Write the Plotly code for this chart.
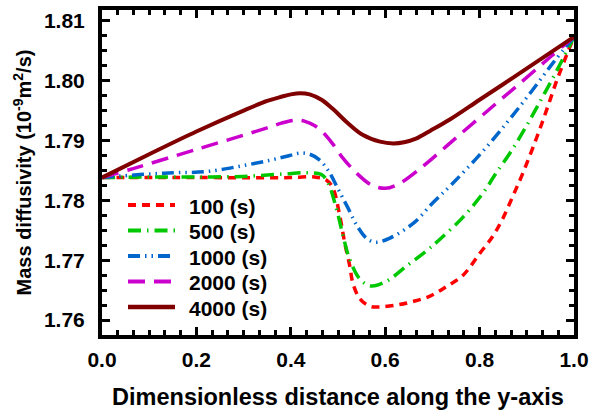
import plotly.graph_objects as go

# ---- data ----
x_100 = [0, 0.2, 0.4, 0.45, 0.475, 0.489, 0.504, 0.514, 0.525, 0.532, 0.547, 0.568, 0.589,
         0.624, 0.659, 0.695, 0.73, 0.765, 0.8, 0.828, 0.85, 0.871, 0.892, 0.921, 0.942,
         0.963, 0.985, 1.0]
y_100 = [1.7838, 1.7838, 1.7838, 1.7839, 1.7834, 1.7821, 1.7773, 1.7730, 1.7690, 1.7660,
         1.7635, 1.7623, 1.7622, 1.7625, 1.7631, 1.7640, 1.7656, 1.7675, 1.7711, 1.7740,
         1.7771, 1.7808, 1.7846, 1.7905, 1.7951, 1.7999, 1.8044, 1.8073]

x_500 = [0, 0.1, 0.2, 0.3, 0.384, 0.434, 0.465, 0.479, 0.497, 0.511, 0.525, 0.547, 0.57,
         0.603, 0.645, 0.688, 0.716, 0.765, 0.807, 0.833, 0.871, 0.907, 0.935, 0.963, 1.0]
y_500 = [1.7838, 1.7839, 1.7839, 1.7840, 1.7844, 1.7846, 1.7843, 1.7829, 1.7785, 1.7740,
         1.7701, 1.7668, 1.7657, 1.7665, 1.7690, 1.7716, 1.7735, 1.7772, 1.7812, 1.7843,
         1.7887, 1.7935, 1.7975, 1.8016, 1.8073]

x_1000 = [0, 0.08, 0.151, 0.221, 0.292, 0.356, 0.398, 0.42, 0.44, 0.46, 0.48, 0.50, 0.52,
          0.54, 0.56, 0.58, 0.61, 0.66, 0.70, 0.74, 0.80, 0.857, 0.907, 0.956, 1.0]
y_1000 = [1.7838, 1.7843, 1.7846, 1.7848, 1.7857, 1.7867, 1.7875, 1.7879, 1.7877, 1.7868,
          1.7849, 1.7819, 1.7789, 1.7758, 1.7737, 1.7730, 1.7737, 1.7762, 1.7795, 1.7826,
          1.7876, 1.7929, 1.7979, 1.8030, 1.8073]

x_2000 = [0, 0.066, 0.208, 0.35, 0.38, 0.41, 0.43, 0.45, 0.47, 0.49, 0.51, 0.54, 0.57, 0.60,
          0.63, 0.68, 0.716, 0.751, 0.822, 0.892, 0.949, 1.0]
y_2000 = [1.7838, 1.7853, 1.7887, 1.7921, 1.7929, 1.7934, 1.7932, 1.7925, 1.7912, 1.7893,
          1.7871, 1.7845, 1.7826, 1.7820, 1.7828, 1.7857, 1.7881, 1.7905, 1.7953, 1.8000,
          1.8039, 1.8073]

x_4000 = [0, 0.1, 0.2, 0.3, 0.35, 0.38, 0.40, 0.42, 0.44, 0.465, 0.49, 0.518, 0.553, 0.589,
          0.617, 0.64, 0.665, 0.695, 0.737, 0.80, 0.871, 0.943, 1.0]
y_4000 = [1.7838, 1.7877, 1.7915, 1.7950, 1.7966, 1.7973, 1.7977, 1.7979, 1.7977, 1.7968,
          1.7952, 1.7931, 1.7909, 1.7898, 1.7895, 1.7897, 1.7903, 1.7916, 1.7935, 1.7968,
          1.8005, 1.8043, 1.8073]

series_names = ["100 (s)", "500 (s)", "1000 (s)", "2000 (s)", "4000 (s)"]
x_ticks = [0.0, 0.2, 0.4, 0.6, 0.8, 1.0]
x_tick_text = ["0.0", "0.2", "0.4", "0.6", "0.8", "1.0"]
y_ticks = [1.76, 1.77, 1.78, 1.79, 1.80, 1.81]
y_tick_text = ["1.76", "1.77", "1.78", "1.79", "1.80", "1.81"]

FONT = "Arial, 'Liberation Sans', sans-serif"

styles = [
    dict(color="#FF0000", width=3.5, dash="8px,6px"),
    dict(color="#00C800", width=3.5, dash="13px,6px,1.5px,6px"),
    dict(color="#0066CC", width=3.5, dash="12px,5px,1.5px,5px,1.5px,5px"),
    dict(color="#CC00CC", width=3.5, dash="17px,9px"),
    dict(color="#800000", width=4, dash="solid"),
]
xs = [x_100, x_500, x_1000, x_2000, x_4000]
ys = [y_100, y_500, y_1000, y_2000, y_4000]

fig = go.Figure()
for name, x, y, st in zip(series_names, xs, ys, styles):
    fig.add_trace(go.Scatter(x=x, y=y, mode="lines", name=name, showlegend=False,
                             line=dict(color=st["color"], width=st["width"], dash=st["dash"],
                                       shape="spline", smoothing=1.0)))

# ---- legend drawn in paper space (line sample + label) ----
L, T, W, H = 102, 10, 472, 325          # plot area in px (for paper conversion)
def px_x(p):
    return (p - L) / W
def px_y(p):
    return 1 - (p - T) / H

legend_rows = [205, 230.5, 256, 281.5, 307]
for name, st, row in zip(series_names, styles, legend_rows):
    fig.add_shape(type="line", xref="paper", yref="paper",
                  x0=px_x(128), x1=px_x(175), y0=px_y(row), y1=px_y(row),
                  line=dict(color=st["color"], width=st["width"] + 0.5, dash=st["dash"]))
    fig.add_annotation(xref="paper", yref="paper", x=px_x(187), y=px_y(row + 1),
                       xanchor="left", yanchor="middle", showarrow=False, text=name,
                       font=dict(family=FONT, size=21, color="black", weight="bold"))

axis_common = dict(
    showline=True, linecolor="black", linewidth=4, mirror="ticks",
    ticks="inside", ticklen=8, tickwidth=2.5, tickcolor="black",
    showgrid=False, zeroline=False, automargin=False,
    tickfont=dict(family=FONT, size=21, color="black", weight="bold"),
)

fig.update_xaxes(
    range=[0, 1], tickvals=x_ticks, ticktext=x_tick_text,
    minor=dict(dtick=0.2 / 6, tick0=0, ticks="inside", ticklen=5, tickwidth=2.5, tickcolor="black"),
    ticklabelstandoff=3,
    title=dict(text="Dimensionless distance along the y-axis",
               font=dict(family=FONT, size=23.5, color="black", weight="bold"), standoff=19),
    **axis_common,
)
fig.update_yaxes(
    range=[1.7575, 1.8118], tickvals=y_ticks, ticktext=y_tick_text,
    minor=dict(dtick=0.0025, tick0=1.76, ticks="inside", ticklen=5, tickwidth=2.5, tickcolor="black"),
    ticklabelstandoff=9,
    title=dict(text="Mass diffusivity (10<sup>-9</sup>m<sup>2</sup>/s)",
               font=dict(family=FONT, size=20, color="black", weight="bold"), standoff=8),
    **axis_common,
)

fig.update_layout(
    width=589, height=415,
    margin=dict(l=102, r=15, t=10, b=80),
    paper_bgcolor="white", plot_bgcolor="white",
    showlegend=False,
)

fig.write_html("out.html")
